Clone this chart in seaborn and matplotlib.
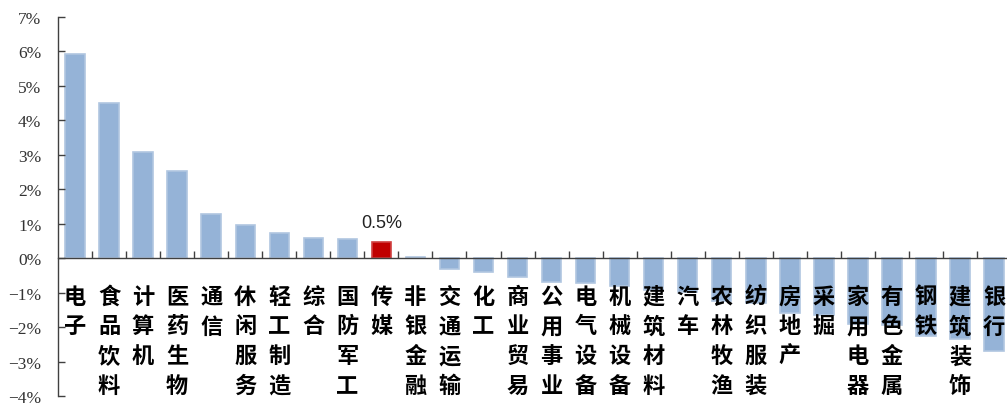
import matplotlib
matplotlib.use("Agg")
import matplotlib.pyplot as plt
import seaborn as sns
import pandas as pd
import numpy as np

categories = ["电子", "食品饮料", "计算机", "医药生物", "通信", "休闲服务", "轻工制造",
              "综合", "国防军工", "传媒", "非银金融", "交通运输", "化工", "商业贸易",
              "公用事业", "电气设备", "机械设备", "建筑材料", "汽车", "农林牧渔",
              "纺织服装", "房地产", "采掘", "家用电器", "有色金属", "钢铁", "建筑装饰", "银行"]
values = [5.92, 4.49, 3.07, 2.52, 1.28, 0.97, 0.72, 0.60, 0.55, 0.48, 0.04, -0.31,
          -0.39, -0.54, -0.70, -0.72, -0.82, -0.93, -0.97, -1.24, -1.30, -1.59, -1.64,
          -1.91, -1.95, -2.27, -2.35, -2.70]
highlight = "传媒"
highlight_label = "0.5%"
yticks = [-4, -3, -2, -1, 0, 1, 2, 3, 4, 5, 6, 7]

sns.set_theme(style="white")
plt.rcParams["font.family"] = ["Noto Sans CJK SC", "DejaVu Sans"]

df = pd.DataFrame({"cat": categories, "val": values})
palette = {c: ("#C00000" if c == highlight else "#95B3D7") for c in categories}

fig = plt.figure(figsize=(10.07, 4.06), dpi=100)
W, H = 1007, 406
left, right, top, bottom = 58, 58 + 28 * 34.04, 18, 397
ax = fig.add_axes([left / W, 1 - bottom / H, (right - left) / W, (bottom - top) / H])

sns.barplot(data=df, x="cat", y="val", hue="cat", palette=palette, legend=False,
            width=0.57, ax=ax, saturation=1)
for i, p in enumerate(ax.patches):
    c = categories[i] if i < len(categories) else None
    if c == highlight:
        p.set_edgecolor("#D04040")
    else:
        p.set_edgecolor("#B0C6E0")
    p.set_linewidth(1.2)
ax.set_axisbelow(False)

ax.set_xlim(-0.5, len(categories) - 0.5)
ax.set_ylim(-4, 7)
ax.set_xlabel("")
ax.set_ylabel("")

for s in ["top", "right"]:
    ax.spines[s].set_visible(False)
ax.spines["bottom"].set_position(("data", 0))
ax.spines["bottom"].set_color("#404040")
ax.spines["left"].set_color("#404040")
ax.spines["bottom"].set_linewidth(1.0)
ax.spines["left"].set_linewidth(1.0)

ax.set_yticks(yticks)
ax.set_yticklabels([f"{t}%".replace("-", "−") for t in yticks],
                   fontfamily="Liberation Serif", fontsize=12.5, color="#333333")
ax.tick_params(axis="y", direction="in", length=5, width=1, color="#404040", pad=12, left=True)

ax.set_xticks(range(len(categories)))
ax.set_xticklabels(["\n".join(c) for c in categories], fontsize=16, fontweight="bold",
                   linespacing=1.38, va="top", color="black")
ax.tick_params(axis="x", which="major", length=0, pad=19)
ax.set_xticks(np.arange(0.5, len(categories) - 0.5, 1), minor=True)
ax.tick_params(axis="x", which="minor", direction="in", length=5, width=1, color="#404040", bottom=True)

hi = categories.index(highlight)
ax.annotate(highlight_label, xy=(hi, values[hi]), xytext=(0, 8), textcoords="offset points",
            ha="center", va="bottom", fontsize=13, fontfamily="Liberation Sans", color="#222222")

fig.savefig("out.png", dpi=100)
